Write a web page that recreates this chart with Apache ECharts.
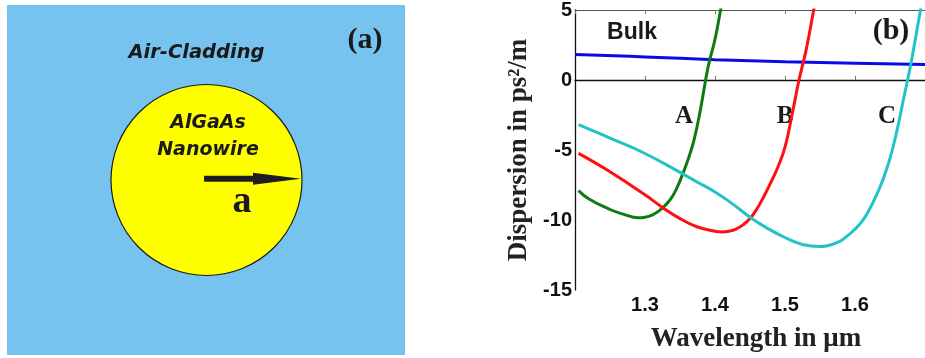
<!DOCTYPE html>
<html>
<head>
<meta charset="utf-8">
<script src="https://cdn.jsdelivr.net/npm/echarts@6/dist/echarts.min.js"></script>
<style>html,body{margin:0;padding:0;background:#fff}#c{width:925px;height:358px}</style>
</head>
<body>
<div id="c"></div>
<script>
// Axis ranges / ticks
var xTicks = [1.2, 1.3, 1.4, 1.5, 1.6, 1.7];
var yTicks = [-15, -10, -5, 0, 5];

// Bulk material dispersion
var bulkX = [1.2, 1.3, 1.4, 1.5, 1.6, 1.7];
var bulkY = [1.82, 1.65, 1.45, 1.3, 1.2, 1.1];

// Nanowire A (green)
var aX = [1.205, 1.22, 1.25, 1.27, 1.29, 1.30, 1.31, 1.32, 1.33, 1.34, 1.35, 1.36, 1.37, 1.38, 1.39, 1.40, 1.408, 1.414];
var aY = [-7.9, -8.5, -9.25, -9.6, -9.84, -9.8, -9.65, -9.35, -8.9, -8.25, -7.2, -5.9, -4.3, -1.9, 0.9, 2.9, 5.0, 6.5];

// Nanowire B (red)
var bX = [1.205, 1.25, 1.30, 1.325, 1.35, 1.375, 1.40, 1.41, 1.42, 1.43, 1.44, 1.45, 1.46, 1.47, 1.48, 1.49, 1.50, 1.51, 1.52, 1.53, 1.541, 1.546];
var bY = [-5.24, -6.55, -8.2, -9.1, -9.9, -10.5, -10.8, -10.85, -10.8, -10.65, -10.35, -9.9, -9.2, -8.3, -7.3, -6.2, -4.8, -2.5, 0.0, 2.1, 5.0, 6.4];

// Nanowire C (cyan)
var cX = [1.205, 1.25, 1.30, 1.35, 1.375, 1.40, 1.425, 1.45, 1.475, 1.50, 1.525, 1.55, 1.575, 1.59, 1.60, 1.61, 1.62, 1.63, 1.64, 1.65, 1.66, 1.67, 1.68, 1.69, 1.70];
var cY = [-3.19, -4.15, -5.25, -6.6, -7.3, -8.0, -8.85, -9.8, -10.6, -11.25, -11.75, -11.9, -11.6, -11.1, -10.65, -10.1, -9.3, -8.3, -7.1, -5.6, -3.6, -1.2, 1.2, 4.0, 6.8];

function pairs(xs, ys) { return xs.map(function (x, i) { return [x, ys[i]]; }); }

var sans = '"Liberation Sans", Arial, sans-serif';
var serif = '"Liberation Serif", "Times New Roman", serif';
var obl = '"DejaVu Sans", sans-serif';

var chart = echarts.init(document.getElementById('c'), null, {renderer: 'canvas'});

function lineSeries(name, data, color) {
  return {
    name: name, type: 'line', data: data, showSymbol: false, smooth: 0.45,
    clip: true, lineStyle: {color: color, width: 3}, itemStyle: {color: color},
    silent: true, animation: false
  };
}

var option = {
  backgroundColor: '#ffffff',
  animation: false,
  grid: {left: 575, top: 5.5, width: 359, height: 284.5, containLabel: false},
  xAxis: [{
    type: 'value', min: xTicks[0], max: xTicks[xTicks.length - 1], interval: 0.1,
    position: 'bottom',
    name: 'Wavelength in μm', nameLocation: 'middle', nameGap: 36,
    nameTextStyle: {fontFamily: serif, fontWeight: 'bold', fontSize: 27, color: '#222', padding: [0, 0, 0, 12]},
    axisLine: {lineStyle: {color: '#111', width: 1.3}},
    axisTick: {inside: true, length: 4, lineStyle: {color: '#777'}},
    axisLabel: {showMinLabel: false, showMaxLabel: false, margin: 5, fontFamily: sans, fontWeight: 'bold', fontSize: 20, color: '#111',
      formatter: function (v) { return v.toFixed(1); }},
    splitLine: {show: false}
  }, {
    type: 'value', min: xTicks[0], max: xTicks[xTicks.length - 1], interval: 0.1,
    position: 'top',
    axisLine: {lineStyle: {color: '#555', width: 1}},
    axisTick: {inside: true, length: 4, lineStyle: {color: '#777'}},
    axisLabel: {show: false},
    splitLine: {show: false}
  }],
  yAxis: [{
    type: 'value', min: yTicks[0], max: yTicks[yTicks.length - 1], interval: 5,
    name: 'Dispersion in ps²/m', nameLocation: 'middle', nameGap: 42,
    nameTextStyle: {fontFamily: serif, fontWeight: 'bold', fontSize: 27, color: '#222'},
    axisLine: {lineStyle: {color: '#111', width: 1.3}},
    axisTick: {show: false},
    axisLabel: {margin: 3, fontFamily: sans, fontWeight: 'bold', fontSize: 20, color: '#111'},
    splitLine: {show: false}
  }],
  series: [
    lineSeries('Bulk', pairs(bulkX, bulkY), '#0a0ae8'),
    lineSeries('A', pairs(aX, aY), '#0f7a12'),
    lineSeries('B', pairs(bX, bY), '#ff1010'),
    lineSeries('C', pairs(cX, cY), '#22c3c6')
  ],
  graphic: [
    // Panel (a): cross-section sketch
    {type: 'rect', shape: {x: 7, y: 5, width: 398, height: 350}, style: {fill: '#75c3ee'}, silent: true},
    {type: 'circle', shape: {cx: 206.5, cy: 180, r: 95.5}, style: {fill: '#ffff00', stroke: '#1a1a1a', lineWidth: 1.2}, silent: true},
    {type: 'rect', shape: {x: 204, y: 175.8, width: 52, height: 6}, style: {fill: '#1e1e22'}, silent: true},
    {type: 'polygon', shape: {points: [[253, 172.8], [301, 178.8], [253, 184.8]]}, style: {fill: '#1e1e22'}, silent: true},
    {type: 'text', x: 196.5, y: 52.5, style: {text: 'Air-Cladding', font: 'italic bold 19.5px ' + obl, fill: '#1a1a1a', textAlign: 'center', textVerticalAlign: 'middle'}, silent: true},
    {type: 'text', x: 208, y: 123, style: {text: 'AlGaAs', font: 'italic bold 19px ' + obl, fill: '#1a1a1a', textAlign: 'center', textVerticalAlign: 'middle'}, silent: true},
    {type: 'text', x: 208, y: 150, style: {text: 'Nanowire', font: 'italic bold 19px ' + obl, fill: '#1a1a1a', textAlign: 'center', textVerticalAlign: 'middle'}, silent: true},
    {type: 'text', x: 242, y: 202, style: {text: 'a', font: 'bold 38px ' + serif, fill: '#1a1a1a', textAlign: 'center', textVerticalAlign: 'middle'}, silent: true},
    {type: 'text', x: 365, y: 40, style: {text: '(a)', font: 'bold 30px ' + serif, fill: '#1a1a1a', textAlign: 'center', textVerticalAlign: 'middle'}, silent: true},
    // Panel (b) annotations
    {type: 'text', x: 632, y: 33, style: {text: 'Bulk', font: 'bold 23px ' + sans, fill: '#1a1a1a', textAlign: 'center', textVerticalAlign: 'middle'}, silent: true},
    {type: 'text', x: 891, y: 31, style: {text: '(b)', font: 'bold 30px ' + serif, fill: '#1a1a1a', textAlign: 'center', textVerticalAlign: 'middle'}, silent: true},
    {type: 'text', x: 684, y: 117, style: {text: 'A', font: 'bold 25px ' + serif, fill: '#1a1a1a', textAlign: 'center', textVerticalAlign: 'middle'}, silent: true},
    {type: 'text', x: 785, y: 117, style: {text: 'B', font: 'bold 25px ' + serif, fill: '#1a1a1a', textAlign: 'center', textVerticalAlign: 'middle'}, silent: true},
    {type: 'text', x: 887, y: 117, style: {text: 'C', font: 'bold 25px ' + serif, fill: '#1a1a1a', textAlign: 'center', textVerticalAlign: 'middle'}, silent: true}
  ]
};
chart.setOption(option);
</script>
</body>
</html>
